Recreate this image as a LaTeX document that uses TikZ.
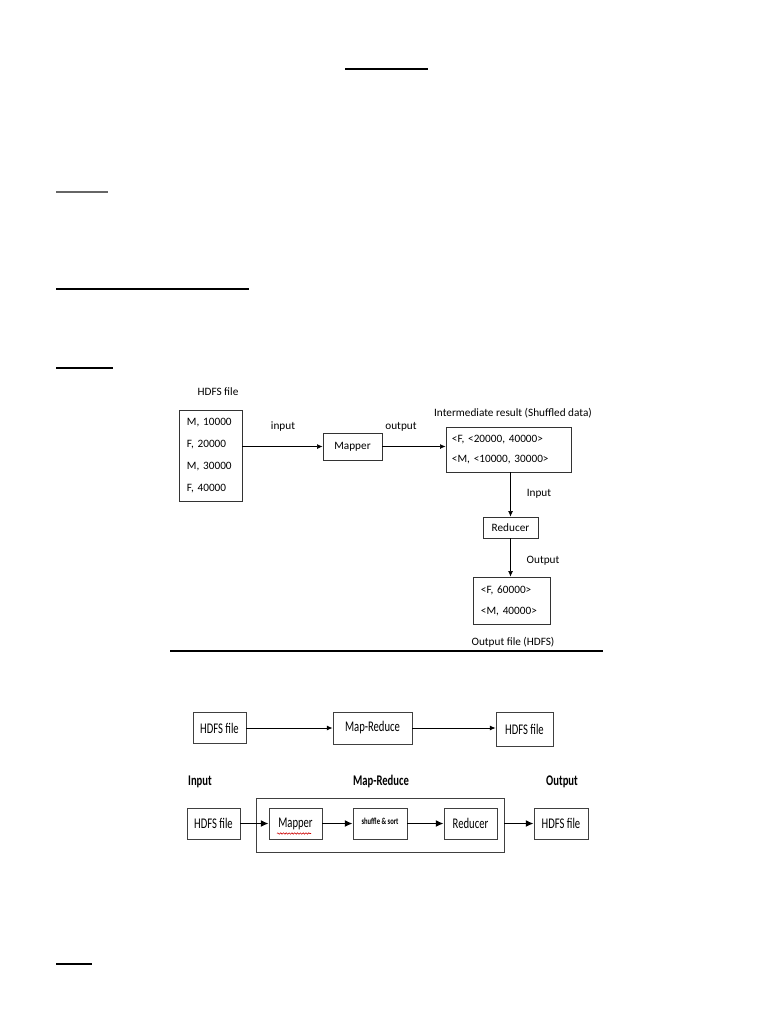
\documentclass[tikz,border=0pt]{standalone}
\usepackage{fontspec}
\setmainfont{Carlito}
\newfontfamily\narrowfont[FakeStretch=0.72]{Carlito}
\usetikzlibrary{arrows.meta, positioning, decorations.pathmorphing}
\frenchspacing

\begin{document}
\begin{tikzpicture}[
    x=0.025cm, y=-0.025cm,
    box/.style={rectangle, draw=black!80, line width=0.5pt, inner sep=0pt, align=center, font=\fontsize{8}{9.6}\selectfont},
    listbox/.style={rectangle, draw=black!80, line width=0.5pt, inner ysep=0pt, align=left},
    note/.style={font=\fontsize{8}{9.6}\selectfont},
    wbox/.style={rectangle, draw=black!75, line width=0.6pt, inner sep=0pt, align=center, font=\narrowfont\fontsize{10.5}{12}\selectfont},
    head/.style={font=\narrowfont\bfseries\fontsize{10.5}{12}\selectfont, text height=7.5pt, text depth=2.5pt},
    arrow/.style={-{Latex[length=4pt, width=3.5pt]}, line width=0.5pt},
    thickarrow/.style={-{Latex[length=5.5pt, width=5pt]}, line width=1.1pt},
    rule/.style={line width=1.4pt}
]
\useasboundingbox (0,0) rectangle (768,1024);

% Heading rules of the page
\draw[rule] (345,69) -- (428,69);
\draw[line width=0.8pt, black!60] (56,192) -- (108,192);
\draw[rule] (56,289) -- (249,289);
\draw[line width=1pt] (56,368) -- (113,368);
\draw[rule] (56,964) -- (92,964);

% First diagram: input file -> Mapper -> shuffled data
\node[listbox, text width=1.175cm, inner xsep=0.2cm, minimum height=2.275cm, font=\fontsize{8}{15.6}\selectfont] (srcfile) at (210.5,455.5) {M, 10000\\F, 20000\\M, 30000\\F, 40000};
\node[note] (srcname) at (218,392) {HDFS file};

\node[box, minimum width=1.475cm, minimum height=0.675cm] (mapper) at (352.5,446.5) {Mapper};

\node[listbox, text width=2.825cm, inner xsep=0.15cm, minimum height=1.125cm, font=\fontsize{8}{14.5}\selectfont] (shuffled) at (508.5,449.5) {<F, <20000, 40000>\\<M, <10000, 30000>};
\node[note] (shufname) at (513,413) {Intermediate result (Shuffled data)};

\node[box, minimum width=1.375cm, minimum height=0.525cm] (reducer) at (510.5,527.5) {Reducer};

\node[listbox, text width=1.525cm, inner xsep=0.2cm, minimum height=1.175cm, font=\fontsize{8}{15}\selectfont] (result) at (511.5,600.5) {<F, 60000>\\<M, 40000>};
\node[note] (resname) at (513,642) {Output file (HDFS)};

% Edge labels
\node[note] (lin) at (283,427) {input};
\node[note] (lout) at (401,427) {output};
\node[note] (lredin) at (539,494) {Input};
\node[note] (lredout) at (543,561) {Output};

% Arrows of the first diagram
\draw[arrow] (srcfile.east |- mapper.west) -- (mapper.west);
\draw[arrow] (mapper.east) -- (shuffled.west |- mapper.east);
\draw[arrow] (shuffled.south -| reducer.north) -- (reducer.north);
\draw[arrow] (reducer.south) -- (reducer.south |- result.north);

\draw[rule] (170,651) -- (603,651);

% Second diagram: overview
\node[wbox, minimum width=1.325cm, minimum height=0.775cm] (hdfsa) at (219.5,728) {HDFS file};
\node[wbox, minimum width=1.975cm, minimum height=0.8cm] (mapred) at (372.5,728) {Map-Reduce};
\node[wbox, minimum width=1.425cm, minimum height=0.85cm] (hdfsb) at (524.5,729) {HDFS file};

\draw[arrow, line width=0.6pt] (hdfsa.east) -- (mapred.west);
\draw[arrow, line width=0.6pt] (mapred.east) -- (hdfsb.west |- mapred.east);

% Third diagram: inside Map-Reduce
\node[head] (hin) at (200,782) {Input};
\node[head] (hmr) at (381,782) {Map-Reduce};
\node[head] (hout) at (562,782) {Output};

\node[rectangle, draw=black!75, line width=0.6pt, minimum width=6.2cm, minimum height=1.35cm] (mrbox) at (380,825) {};
\node[wbox, minimum width=1.325cm, minimum height=0.775cm] (hdfsc) at (213.5,823.5) {HDFS file};
\node[wbox, minimum width=1.325cm, minimum height=0.775cm] (mapperb) at (295.5,823.5) {Mapper};
\node[wbox, minimum width=1.35cm, minimum height=0.775cm, font=\narrowfont\bfseries\fontsize{6.5}{7}\selectfont] (shufsort) at (380,823.5) {\raisebox{2.5pt}{shuffle \& sort}};
\node[wbox, minimum width=1.325cm, minimum height=0.775cm] (reducerb) at (470.5,823.5) {Reducer};
\node[wbox, minimum width=1.35cm, minimum height=0.775cm] (hdfsd) at (561,823.5) {HDFS file};

% spell-check squiggle under Mapper
\draw[red!80!black, line width=0.4pt, decorate, decoration={snake, amplitude=0.5pt, segment length=2pt}] (277,833.5) -- (311,833.5);

\draw[thickarrow] (hdfsc.east) -- (mapperb.west);
\draw[thickarrow] (mapperb.east) -- (shufsort.west);
\draw[thickarrow] (shufsort.east) -- (reducerb.west);
\draw[thickarrow] (mrbox.east |- reducerb.east) -- (hdfsd.west);

\end{tikzpicture}
\end{document}
